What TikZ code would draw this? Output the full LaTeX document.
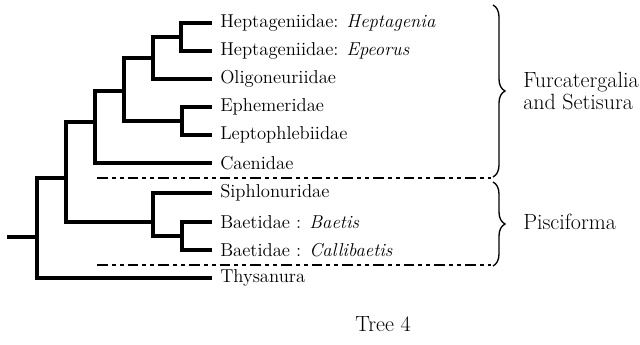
\documentclass[tikz,border=0pt]{standalone}
\usetikzlibrary{decorations.pathreplacing}
\begin{document}
\begin{tikzpicture}[x=0.75pt,y=-0.75pt,
  branch/.style={line width=2.3pt,line cap=rect},
  leaf/.style={anchor=west,inner xsep=7.5pt,inner ysep=0pt,font=\fontsize{14}{16}\selectfont},
  grouplabel/.style={anchor=west,inner sep=0pt,font=\fontsize{16.5}{14.5}\selectfont,align=left},
  sep/.style={line width=1.3pt,dash pattern=on 8pt off 3pt on 3pt off 3pt on 3pt off 3pt},
  bracestyle/.style={line width=1pt,decorate,decoration={brace,amplitude=9pt}}]
\useasboundingbox (0,0) rectangle (640,345);
% leaves
\node[leaf] (l1) at (210,23) {Heptageniidae: \textit{Heptagenia}};
\node[leaf] (l2) at (210,51) {Heptageniidae: \textit{Epeorus}};
\node[leaf] (l3) at (210,79) {Oligoneuriidae};
\node[leaf] (l4) at (210,107) {Ephemeridae};
\node[leaf] (l5) at (210,135) {Leptophlebiidae};
\node[leaf] (l6) at (210,163) {Caenidae};
\node[leaf] (l7) at (210,193) {Siphlonuridae};
\node[leaf] (l8) at (210,222) {Baetidae : \textit{Baetis}};
\node[leaf] (l9) at (210,250) {Baetidae : \textit{Callibaetis}};
\node[leaf] (l10) at (210,278) {Thysanura};
% internal nodes
\coordinate (a) at (181,37);
\coordinate (b) at (153,58);
\coordinate (c) at (182,121);
\coordinate (d) at (124,91);
\coordinate (e) at (95,122);
\coordinate (f) at (182,236);
\coordinate (g) at (153,222);
\coordinate (h) at (66,178);
\coordinate (r) at (37,237);
\coordinate (s) at (9,237);
% branches
\draw[branch] (l1.west) -| (a) |- (l2.west);
\draw[branch] (a) -| (b) |- (l3.west);
\draw[branch] (l4.west) -| (c) |- (l5.west);
\draw[branch] (b) -| (d) |- (c);
\draw[branch] (d) -| (e) |- (l6.west);
\draw[branch] (l8.west) -| (f) |- (l9.west);
\draw[branch] (l7.west) -| (g) |- (f);
\draw[branch] (e) -| (h) |- (g);
\draw[branch] (h) -| (r) |- (l10.west);
\draw[branch] (s) -- (r);
% separators and braces
\coordinate (u1) at (97,178);
\coordinate (u2) at (491,178);
\coordinate (v1) at (97,265);
\coordinate (v2) at (491,265);
\draw[sep] (u1) -- (u2);
\draw[sep] (v1) -- (v2);
\coordinate (bt1) at (493,5);
\coordinate (bb1) at (493,177);
\coordinate (bt2) at (493,182);
\coordinate (bb2) at (493,266);
\draw[bracestyle] (bt1) -- (bb1);
\draw[bracestyle] (bt2) -- (bb2);
\node[grouplabel] (furc) at (523,91) {Furcatergalia\\and Setisura};
\node[grouplabel] (pisc) at (523,222) {Pisciforma};
\node[font=\fontsize{16.5}{18}\selectfont] (title) at (383,324) {Tree 4};
\end{tikzpicture}
\end{document}
